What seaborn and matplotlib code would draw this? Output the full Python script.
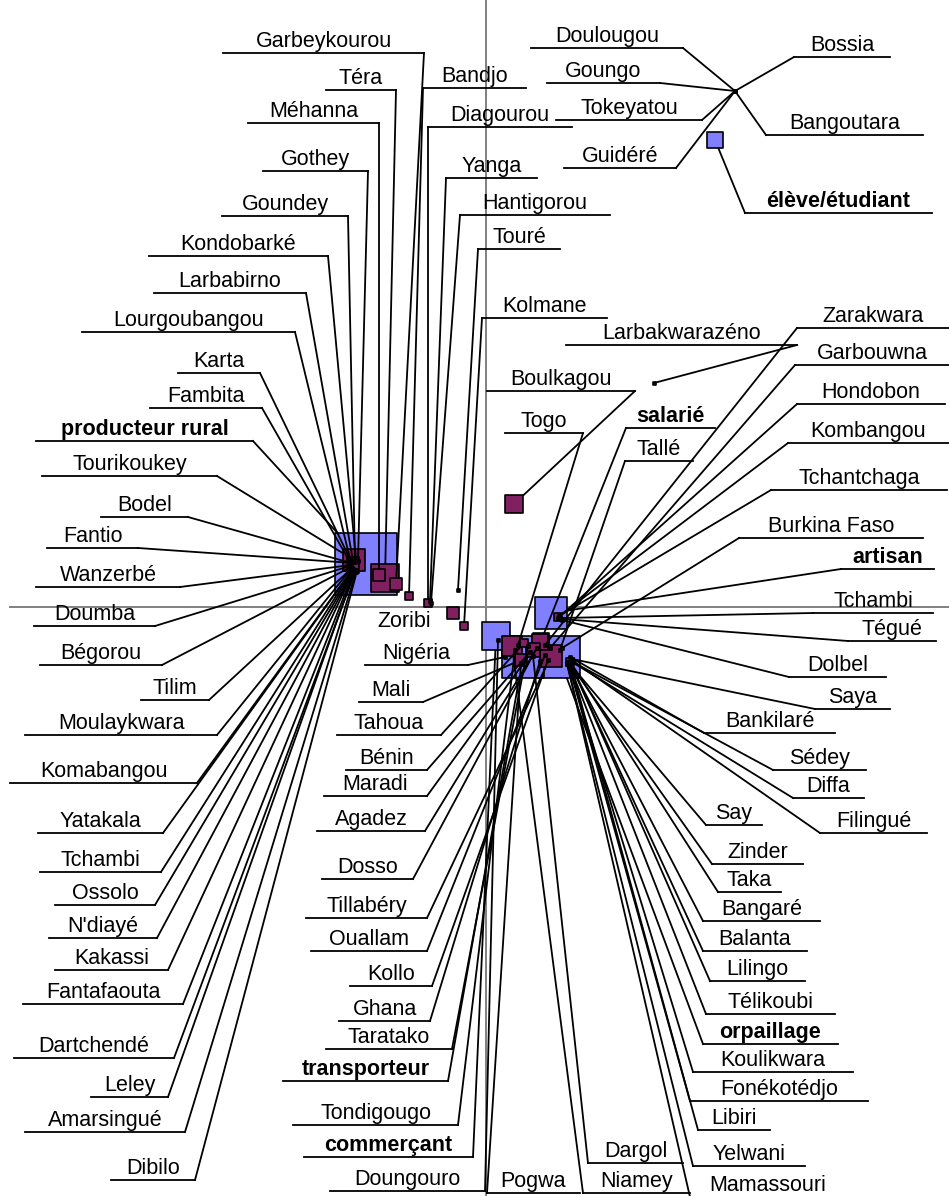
import numpy as np
import pandas as pd
import seaborn as sns
import matplotlib.pyplot as plt

plt.rcParams["font.family"] = ["Liberation Sans", "DejaVu Sans"]

# Coordonnées factorielles (axe 1, axe 2)
prof_names = ["producteur rural", "élève/étudiant", "salarié", "artisan",
              "orpaillage", "transporteur", "commerçant"]
prof_dim1 = [-0.600, 1.145, 0.275, 0.325, 0.365, 0.185, 0.050]
prof_dim2 = [0.215, 2.335, -0.170, -0.030, -0.250, -0.250, -0.145]
prof_n = [62, 4, 4, 17, 28, 28, 13]

loc_names = [
    # groupe ouest
    "Garbeykourou", "Téra", "Méhanna", "Gothey", "Goundey", "Kondobarké",
    "Larbabirno", "Lourgoubangou", "Karta", "Fambita", "Tourikoukey",
    "Bodel", "Fantio", "Wanzerbé", "Doumba", "Bégorou", "Tilim",
    "Moulaykwara", "Komabangou", "Yatakala", "Tchambi", "Ossolo",
    "N'diayé", "Kakassi", "Fantafaouta", "Dartchendé", "Leley",
    "Amarsingué", "Dibilo",
    # centre
    "Bandjo", "Diagourou", "Yanga", "Hantigorou", "Touré", "Kolmane", "Zoribi",
    # nord-est
    "Doulougou", "Goungo", "Tokeyatou", "Guidéré", "Bossia", "Bangoutara",
    "Larbakwarazéno", "Boulkagou", "Togo", "Tallé",
    # groupe est
    "Niamey", "Mali", "Tahoua", "Maradi", "Dosso", "Tillabéry",
    "Kombangou", "Libiri", "Nigéria", "Bénin", "Agadez", "Ouallam",
    "Kollo", "Ghana", "Taratako", "Tondigougo", "Doungouro", "Pogwa",
    "Dargol", "Zarakwara", "Garbouwna", "Hondobon", "Tchantchaga",
    "Burkina Faso", "Tchambi", "Tégué", "Dolbel", "Saya", "Bankilaré",
    "Sédey", "Diffa", "Filingué", "Say", "Zinder", "Taka", "Bangaré",
    "Balanta", "Lilingo", "Télikoubi", "Koulikwara", "Fonékotédjo",
    "Yelwani", "Mamassouri",
]
loc_dim1 = [
    -0.450, -0.505, -0.535, -0.640, -0.655, -0.650,
    -0.665, -0.680, -0.675, -0.680, -0.660,
    -0.675, -0.665, -0.675, -0.680, -0.675, -0.670,
    -0.675, -0.670, -0.665, -0.670, -0.665,
    -0.660, -0.665, -0.660, -0.655, -0.655,
    -0.650, -0.645,
    -0.385, -0.290, -0.280, -0.275, -0.140, -0.110, -0.165,
    1.245, 1.245, 1.245, 1.245, 1.245, 1.245,
    0.840, 0.140, 0.160, 0.370,
    0.130, 0.175, 0.190, 0.235, 0.270, 0.325,
    0.360, 0.420, 0.095, 0.220, 0.255, 0.295,
    0.310, 0.270, 0.210, 0.145, 0.060, 0.175,
    0.235, 0.295, 0.320, 0.360, 0.365,
    0.380, 0.370, 0.375, 0.380, 0.430, 0.420,
    0.425, 0.430, 0.435, 0.415, 0.420, 0.425, 0.415,
    0.420, 0.425, 0.415, 0.410, 0.410,
    0.405, 0.405,
]
loc_dim2 = [
    0.115, 0.145, 0.160, 0.230, 0.225, 0.235,
    0.230, 0.240, 0.230, 0.225, 0.235,
    0.220, 0.220, 0.210, 0.205, 0.200, 0.195,
    0.190, 0.185, 0.190, 0.180, 0.180,
    0.185, 0.175, 0.180, 0.175, 0.185,
    0.175, 0.180,
    0.055, 0.020, 0.030, 0.020, 0.085, -0.095, -0.030,
    2.580, 2.580, 2.580, 2.580, 2.580, 2.580,
    1.120, 0.515, -0.190, -0.215,
    -0.195, -0.265, -0.180, -0.215, -0.175, -0.245,
    -0.050, -0.275, -0.250, -0.225, -0.205, -0.240,
    -0.265, -0.270, -0.195, -0.215, -0.165, -0.280,
    -0.245, -0.190, -0.205, -0.055, -0.045,
    -0.205, -0.055, -0.060, -0.065, -0.260, -0.250,
    -0.270, -0.275, -0.270, -0.280, -0.285, -0.280, -0.275,
    -0.280, -0.285, -0.285, -0.280, -0.275,
    -0.285, -0.280,
]
loc_n = [
    2, 13, 2, 0, 0, 0,
    0, 0, 0, 0, 7,
    0, 2, 0, 0, 0, 0,
    0, 0, 0, 0, 0,
    0, 0, 0, 0, 0,
    0, 0,
    1, 1, 0, 0, 0, 1, 2,
    0, 0, 0, 0, 0, 0,
    0, 5, 0, 0,
    6, 2, 1, 3, 4, 8,
    1, 1, 0, 0, 0, 0,
    0, 0, 0, 0, 0, 0,
    0, 0, 0, 0, 0,
    0, 0, 0, 0, 0, 0,
    0, 0, 0, 0, 0, 0, 0,
    0, 0, 0, 0, 0,
    0, 0,
]

# Placement des étiquettes (pixels de l'image) : trait x0, x1, y, côté d'attache
layout = [
    ("producteur rural", 36, 253, 441, "R"), ("élève/étudiant", 745, 932, 213, "L"),
    ("salarié", 626, 715, 428, "L"), ("artisan", 841, 934, 569, "L"),
    ("orpaillage", 703, 838, 1044, "L"), ("transporteur", 283, 448, 1081, "R"),
    ("commerçant", 304, 473, 1157, "R"),
    ("Garbeykourou", 223, 424, 53, "R"), ("Téra", 326, 396, 90, "R"),
    ("Méhanna", 248, 379, 123, "R"), ("Gothey", 263, 368, 171, "R"),
    ("Goundey", 222, 348, 216, "R"), ("Kondobarké", 149, 328, 256, "R"),
    ("Larbabirno", 154, 306, 293, "R"), ("Lourgoubangou", 82, 295, 332, "R"),
    ("Karta", 178, 260, 373, "R"), ("Fambita", 150, 262, 408, "R"),
    ("Tourikoukey", 42, 217, 476, "R"), ("Bodel", 101, 188, 517, "R"),
    ("Fantio", 47, 138, 548, "R"), ("Wanzerbé", 36, 180, 587, "R"),
    ("Doumba", 34, 155, 626, "R"), ("Bégorou", 40, 162, 665, "R"),
    ("Tilim", 141, 209, 700, "R"), ("Moulaykwara", 25, 217, 735, "R"),
    ("Komabangou", 10, 197, 783, "R"), ("Yatakala", 38, 163, 833, "R"),
    ("Tchambi", 40, 161, 872, "R"), ("Ossolo", 55, 155, 905, "R"),
    ("N'diayé", 49, 157, 938, "R"), ("Kakassi", 55, 168, 970, "R"),
    ("Fantafaouta", 23, 183, 1004, "R"), ("Dartchendé", 14, 174, 1058, "R"),
    ("Leley", 91, 168, 1097, "R"), ("Amarsingué", 25, 185, 1132, "R"),
    ("Dibilo", 111, 195, 1180, "R"),
    ("Bandjo", 423, 526, 88, "L"), ("Diagourou", 428, 572, 127, "L"),
    ("Yanga", 446, 537, 178, "L"), ("Hantigorou", 460, 610, 215, "L"),
    ("Touré", 478, 560, 249, "L"), ("Kolmane", 482, 607, 318, "L"),
    ("Zoribi", 376, 432, 633, None),
    ("Doulougou", 531, 683, 48, "R"), ("Goungo", 547, 660, 83, "R"),
    ("Tokeyatou", 556, 702, 120, "R"), ("Guidéré", 564, 676, 168, "R"),
    ("Bossia", 794, 890, 57, "L"), ("Bangoutara", 766, 923, 135, "L"),
    ("Larbakwarazéno", 566, 797, 345, "R"), ("Boulkagou", 487, 635, 391, "R"),
    ("Togo", 505, 583, 433, "R"), ("Tallé", 625, 693, 461, "L"),
    ("Niamey", 583, 690, 1193, "L"), ("Mali", 359, 423, 702, "R"),
    ("Tahoua", 337, 441, 735, "R"), ("Maradi", 324, 427, 796, "R"),
    ("Dosso", 322, 413, 879, "R"), ("Tillabéry", 306, 427, 918, "R"),
    ("Kombangou", 788, 949, 443, "L"), ("Libiri", 698, 770, 1130, "L"),
    ("Nigéria", 365, 468, 665, "R"), ("Bénin", 346, 427, 770, "R"),
    ("Agadez", 317, 425, 831, "R"), ("Ouallam", 311, 427, 951, "R"),
    ("Kollo", 350, 432, 986, "R"), ("Ghana", 339, 430, 1021, "R"),
    ("Taratako", 326, 452, 1049, "R"), ("Tondigougo", 293, 458, 1125, "R"),
    ("Doungouro", 330, 485, 1191, "R"), ("Pogwa", 487, 580, 1193, "L"),
    ("Dargol", 588, 683, 1163, "L"), ("Zarakwara", 797, 949, 328, "L"),
    ("Garbouwna", 795, 949, 365, "L"), ("Hondobon", 797, 945, 404, "L"),
    ("Tchantchaga", 771, 947, 490, "L"), ("Burkina Faso", 739, 923, 538, "L"),
    ("Tchambi", 813, 933, 613, "L"), ("Tégué", 848, 936, 641, "L"),
    ("Dolbel", 789, 886, 677, "L"), ("Saya", 815, 890, 709, "L"),
    ("Bankilaré", 704, 835, 733, "L"), ("Sédey", 773, 866, 770, "L"),
    ("Diffa", 793, 864, 798, "L"), ("Filingué", 820, 927, 833, "L"),
    ("Say", 706, 762, 825, "L"), ("Zinder", 712, 803, 864, "L"),
    ("Taka", 718, 781, 892, "L"), ("Bangaré", 703, 820, 921, "L"),
    ("Balanta", 703, 807, 951, "L"), ("Lilingo", 710, 805, 981, "L"),
    ("Télikoubi", 706, 835, 1014, "L"), ("Koulikwara", 693, 853, 1072, "L"),
    ("Fonékotédjo", 690, 868, 1101, "L"), ("Yelwani", 693, 805, 1166, "L"),
    ("Mamassouri", 690, 846, 1197, "L"),
]

W, H = 949, 1196
S = 200.0            # pixels par unité factorielle
OX, OY = 486, 607    # origine dans l'image


def to_data(x, y):
    return (x - OX) / S, (OY - y) / S


def to_px(a, b):
    return OX + a * S, OY - b * S


def side_px(n):
    return max(3.0, 8.0 * np.sqrt(n))


df = pd.DataFrame({
    "label": prof_names + loc_names,
    "dim1": prof_dim1 + loc_dim1,
    "dim2": prof_dim2 + loc_dim2,
    "effectif": prof_n + loc_n,
    "groupe": ["profession"] * len(prof_names) + ["localité"] * len(loc_names),
})
df["rang"] = (df["groupe"] == "localité").astype(int)
df_plot = df.sort_values(["rang", "effectif"], ascending=[True, False], kind="stable")

size_map = {n: (side_px(n) * 0.72) ** 2 for n in df["effectif"].unique()}

fig = plt.figure(figsize=(W / 100, H / 100), dpi=100)
ax = fig.add_axes([0, 0, 1, 1])

sns.scatterplot(
    data=df_plot, x="dim1", y="dim2",
    hue="groupe", palette={"profession": "#8080FF", "localité": "#802060"},
    size="effectif", sizes=size_map,
    marker="s", edgecolor="black", linewidth=1.2,
    legend=False, ax=ax, zorder=2,
)

xmin, ymax = to_data(0, 0)
xmax, ymin = to_data(W, H)
ax.set_xlim(xmin, xmax)
ax.set_ylim(ymin, ymax)
ax.axis("off")

# axes factoriels
ax.axvline(0, color="#808080", lw=1.4, zorder=1)
ax.plot([to_data(10, 0)[0], xmax], [0, 0], color="#808080", lw=1.4, zorder=1)

LW = 1.3
for (name, a, b, n, grp), (lname, ux0, ux1, uy, side) in zip(
        df[["label", "dim1", "dim2", "effectif", "groupe"]].itertuples(index=False), layout):
    assert name == lname, (name, lname)
    tx, ty = to_data((ux0 + ux1) / 2, uy - 6)
    ax.text(tx, ty, name, ha="center", va="baseline", fontsize=15.5,
            fontweight="bold" if grp == "profession" else "normal", zorder=4)
    if side is None:
        continue
    (lx0, ly), (lx1, _) = to_data(ux0, uy), to_data(ux1, uy)
    ax.plot([lx0, lx1], [ly, ly], color="black", lw=LW, zorder=3)

    sx = ux0 if side == "L" else ux1
    px, py = to_px(a, b)
    dx, dy = sx - px, uy - py
    ex, ey = px, py
    if n > 0:
        h = side_px(n) / 2 + 0.5
        m = max(abs(dx), abs(dy))
        if m > h:
            ex, ey = px + dx * h / m, py + dy * h / m
    (x0, y0), (x1, y1) = to_data(sx, uy), to_data(ex, ey)
    ax.plot([x0, x1], [y0, y1], color="black", lw=LW, zorder=3)

fig.savefig("out.png", dpi=100)
